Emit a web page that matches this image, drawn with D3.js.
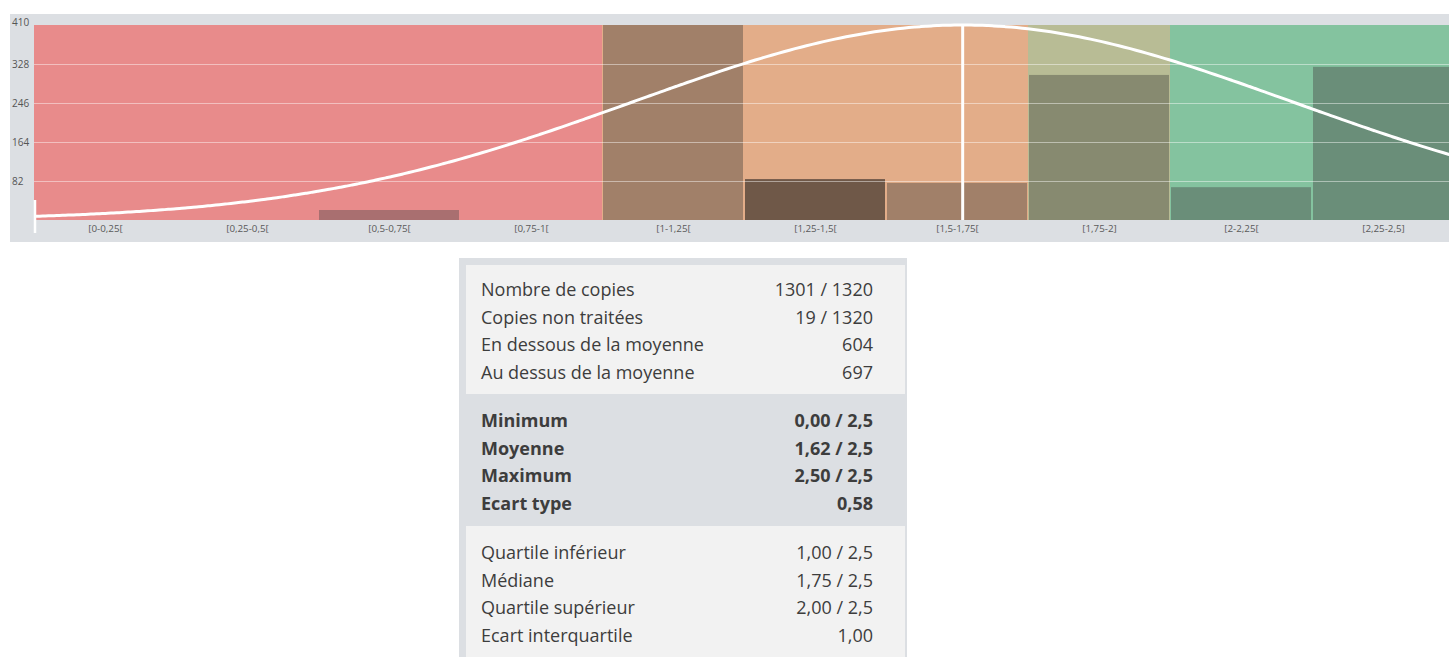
<!DOCTYPE html>
<html>
<head>
<meta charset="utf-8">
<script src="https://cdn.jsdelivr.net/npm/d3@7"></script>
<style>
  body { margin: 0; background: #fff; }
  svg { display: block; font-family: "Open Sans", sans-serif; }
</style>
</head>
<body>
<svg id="chart" width="1449" height="657"></svg>
<script>
// histogram bins
var binLabels = ["[0-0,25[", "[0,25-0,5[", "[0,5-0,75[", "[0,75-1[", "[1-1,25[",
                 "[1,25-1,5[", "[1,5-1,75[", "[1,75-2]", "[2-2,25[", "[2,25-2,5]"];
var binStart = [0, 0.25, 0.5, 0.75, 1, 1.25, 1.5, 1.75, 2, 2.25];
var binCounts = [0, 0, 21, 0, 410, 86, 78, 305, 69, 322];

// coloured bands behind the bars
var zoneStart = [0, 1, 1.75, 2];
var zoneEnd = [1, 1.75, 2, 2.5];

var yTicks = [82, 164, 246, 328, 410];

// normal curve drawn over the histogram
var curveMean = 1.635;
var curveSd = 0.58;

// stats panel
var statLabels1 = ["Nombre de copies", "Copies non traitées", "En dessous de la moyenne", "Au dessus de la moyenne"];
var statValues1 = ["1301 / 1320", "19 / 1320", "604", "697"];
var statLabels2 = ["Minimum", "Moyenne", "Maximum", "Ecart type"];
var statValues2 = ["0,00 / 2,5", "1,62 / 2,5", "2,50 / 2,5", "0,58"];
var statLabels3 = ["Quartile inférieur", "Médiane", "Quartile supérieur", "Ecart interquartile"];
var statValues3 = ["1,00 / 2,5", "1,75 / 2,5", "2,00 / 2,5", "1,00"];

var zoneColors = ["#e88b8b", "#e3ad89", "#b8bc95", "#84c39f"];
var barColors = ["#a96f70", "#a96f70", "#a96f70", "#a96f70", "#a18069",
                 "#6f5848", "#a18069", "#878a70", "#6a8e79", "#6a8e79"];

var svg = d3.select("#chart");

var x = d3.scaleLinear().domain([0, 2.5]).range([34, 1454]);
var y = d3.scaleLinear().domain([0, 410]).range([220, 25]);

// grey frame of the chart
svg.append("rect")
    .attr("x", 10).attr("y", 14)
    .attr("width", 1445).attr("height", 228)
    .attr("fill", "#dcdfe3");

// zones
svg.append("g").selectAll("rect")
    .data(zoneStart)
    .join("rect")
        .attr("x", function(d) { return x(d); })
        .attr("y", y(410))
        .attr("width", function(d, i) { return x(zoneEnd[i]) - x(d); })
        .attr("height", y(0) - y(410))
        .attr("fill", function(d, i) { return zoneColors[i]; });

// bars
svg.append("g").selectAll("rect")
    .data(binCounts)
    .join("rect")
        .attr("x", function(d, i) { return x(binStart[i]) + 1; })
        .attr("y", function(d) { return y(d); })
        .attr("width", function(d, i) { return x(binStart[i] + 0.25) - x(binStart[i]) - 2; })
        .attr("height", function(d) { return y(0) - y(d); })
        .attr("fill", function(d, i) { return barColors[i]; });

// grid lines
svg.append("g").selectAll("line")
    .data(yTicks.slice(0, -1))
    .join("line")
        .attr("x1", 34).attr("x2", 1454)
        .attr("y1", function(d) { return y(d) + 0.5; })
        .attr("y2", function(d) { return y(d) + 0.5; })
        .attr("stroke", "#fff")
        .attr("stroke-opacity", 0.45);

// y labels
svg.append("g").selectAll("text")
    .data(yTicks)
    .join("text")
        .attr("x", 12)
        .attr("y", function(d) { return d === 410 ? y(d) - 3 : y(d); })
        .attr("dy", "0.35em")
        .attr("font-size", 10)
        .attr("fill", "#555")
        .text(function(d) { return d; });

// x labels
var xAxis = d3.axisBottom(x)
    .tickValues(binStart.map(function(d) { return d + 0.125; }))
    .tickFormat(function(d, i) { return binLabels[i]; })
    .tickSize(0)
    .tickPadding(5);
var gx = svg.append("g")
    .attr("transform", "translate(0," + y(0) + ")")
    .call(xAxis);
gx.select(".domain").remove();
gx.selectAll("text").attr("font-size", 9.8).attr("fill", "#5a5a5a")
    .attr("font-family", "Open Sans, sans-serif");

// small white axis mark at zero
svg.append("line")
    .attr("x1", 35).attr("x2", 35)
    .attr("y1", 200).attr("y2", 233)
    .attr("stroke", "#fff").attr("stroke-width", 2.5);

// normal curve
var curveX = d3.range(0, 2.5001, 0.01);
var line = d3.line()
    .x(function(d) { return x(d); })
    .y(function(d) {
        var z = (d - curveMean) / curveSd;
        return y(410 * Math.exp(-0.5 * z * z));
    })
    .curve(d3.curveBasis);
svg.append("path")
    .datum(curveX)
    .attr("d", line)
    .attr("fill", "none")
    .attr("stroke", "#fff")
    .attr("stroke-width", 3);

// mean line
svg.append("line")
    .attr("x1", x(curveMean)).attr("x2", x(curveMean))
    .attr("y1", y(410)).attr("y2", y(0))
    .attr("stroke", "#fff").attr("stroke-width", 3);

// stats panel
svg.append("rect")
    .attr("x", 459).attr("y", 258)
    .attr("width", 448).attr("height", 410)
    .attr("fill", "#dcdfe3");
svg.append("rect")
    .attr("x", 466).attr("y", 265)
    .attr("width", 439).attr("height", 129)
    .attr("fill", "#f2f2f2");
svg.append("rect")
    .attr("x", 466).attr("y", 526)
    .attr("width", 439).attr("height", 140)
    .attr("fill", "#f2f2f2");

function statBlock(labels, values, top, bold) {
    var g = svg.append("g")
        .attr("font-size", 18)
        .attr("fill", "#3d3d3d")
        .attr("font-weight", bold ? 700 : 400);
    g.selectAll("text.lbl")
        .data(labels)
        .join("text")
            .attr("class", "lbl")
            .attr("x", 481)
            .attr("y", function(d, i) { return top + i * 27.5; })
            .attr("dy", "0.35em")
            .text(function(d) { return d; });
    g.selectAll("text.val")
        .data(values)
        .join("text")
            .attr("class", "val")
            .attr("x", 873)
            .attr("y", function(d, i) { return top + i * 27.5; })
            .attr("dy", "0.35em")
            .attr("text-anchor", "end")
            .text(function(d) { return d; });
}
statBlock(statLabels1, statValues1, 290, false);
statBlock(statLabels2, statValues2, 421, true);
statBlock(statLabels3, statValues3, 553, false);
</script>
</body>
</html>
